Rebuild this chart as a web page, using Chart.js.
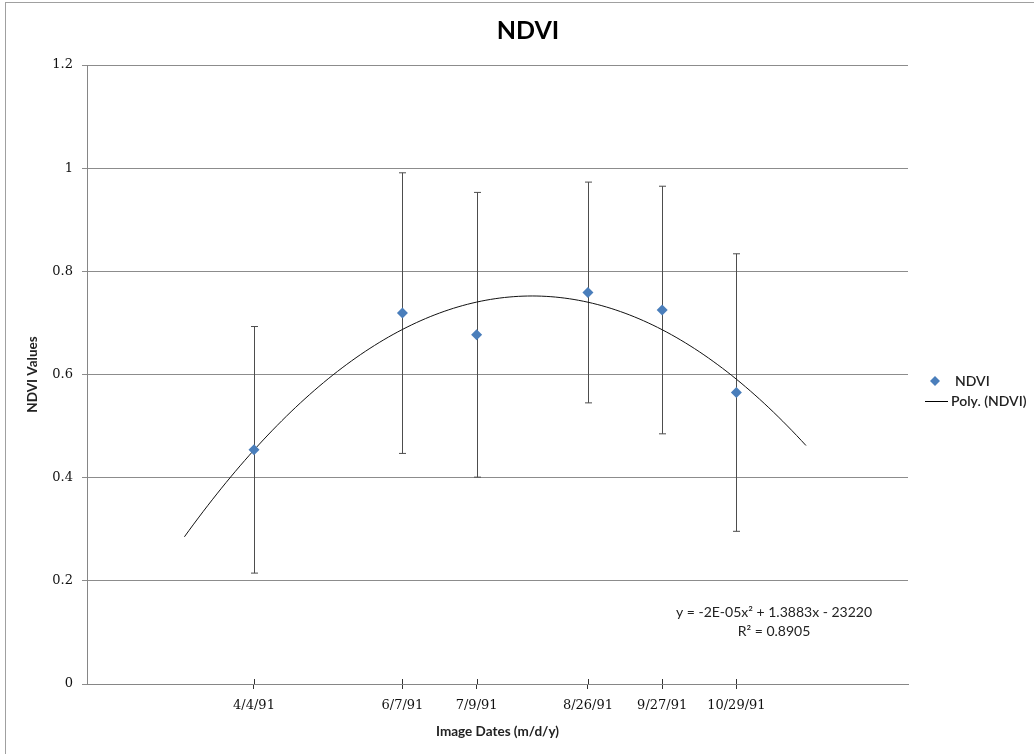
<!DOCTYPE html>
<html>
<head>
<meta charset="utf-8">
<script src="https://cdn.jsdelivr.net/npm/chart.js@4/dist/chart.umd.min.js"></script>
<style>
  html, body { margin: 0; padding: 0; background: #fff; overflow: hidden; }
  #wrap { position: relative; width: 1034px; height: 754px; }
  #frame { position: absolute; left: 5px; top: 2px; width: 1100px; height: 800px; border: 1px solid #a0a0a0; }
  canvas { position: absolute; left: 0; top: 0; }
</style>
</head>
<body>
<div id="wrap">
  <div id="frame"></div>
  <canvas id="miGrafica" width="1034" height="754"></canvas>
</div>
<script>
// image dates (Excel day serials) and their labels
var dateLabels = ['4/4/91', '6/7/91', '7/9/91', '8/26/91', '9/27/91', '10/29/91'];
var dateSerials = [33332, 33396, 33428, 33476, 33508, 33540];
// mean NDVI and error bar size per date
var ndviMean = [0.454, 0.719, 0.677, 0.759, 0.725, 0.565];
var ndviErr = [0.239, 0.272, 0.276, 0.214, 0.240, 0.269];
var yTicks = [0, 0.2, 0.4, 0.6, 0.8, 1, 1.2];
var trendText = ['y = -2E-05x\u00b2 + 1.3883x - 23220', 'R\u00b2 = 0.8905'];
var forecastDays = 30;

// least squares 2nd order fit of the data (same thing excel does for Poly. trendline)
function polyFit(xs, ys) {
  var x0 = xs.reduce(function (a, b) { return a + b; }, 0) / xs.length;
  var s = [0, 0, 0, 0, 0], t = [0, 0, 0];
  for (var i = 0; i < xs.length; i++) {
    var u = xs[i] - x0;
    for (var k = 0; k < 5; k++) s[k] += Math.pow(u, k);
    for (var k2 = 0; k2 < 3; k2++) t[k2] += ys[i] * Math.pow(u, k2);
  }
  var m = [[s[0], s[1], s[2], t[0]], [s[1], s[2], s[3], t[1]], [s[2], s[3], s[4], t[2]]];
  for (var c = 0; c < 3; c++) {
    for (var r = c + 1; r < 3; r++) {
      var f = m[r][c] / m[c][c];
      for (var j = c; j < 4; j++) m[r][j] -= f * m[c][j];
    }
  }
  var b = [0, 0, 0];
  for (var r2 = 2; r2 >= 0; r2--) {
    var v = m[r2][3];
    for (var j2 = r2 + 1; j2 < 3; j2++) v -= m[r2][j2] * b[j2];
    b[r2] = v / m[r2][r2];
  }
  return function (x) { var u = x - x0; return b[0] + b[1] * u + b[2] * u * u; };
}

var fit = polyFit(dateSerials, ndviMean);
var trendPoints = [];
for (var d = dateSerials[0] - forecastDays; d <= dateSerials[dateSerials.length - 1] + forecastDays; d += 2) {
  trendPoints.push({ x: d, y: fit(d) });
}

var ndviPoints = dateSerials.map(function (x, i) { return { x: x, y: ndviMean[i] }; });

var labelFont = { family: 'Lato, "Open Sans", sans-serif', size: 13.5, weight: 'bold' };
var tickFont = { family: '"DejaVu Serif", serif', size: 13 };

// error bars, cross tick marks, legend and equation text
var extras = {
  id: 'extras',
  beforeDatasetsDraw: function (chart) {
    var ctx = chart.ctx, xs = chart.scales.x, ys = chart.scales.y;
    ctx.save();
    ctx.strokeStyle = '#4d4d4d';
    ctx.lineWidth = 1;
    for (var i = 0; i < dateSerials.length; i++) {
      var px = Math.round(xs.getPixelForValue(dateSerials[i])) + 0.5;
      var top = ys.getPixelForValue(ndviMean[i] + ndviErr[i]);
      var bot = ys.getPixelForValue(ndviMean[i] - ndviErr[i]);
      ctx.beginPath();
      ctx.moveTo(px, top); ctx.lineTo(px, bot);
      ctx.moveTo(px - 3.5, top); ctx.lineTo(px + 3.5, top);
      ctx.moveTo(px - 3.5, bot); ctx.lineTo(px + 3.5, bot);
      ctx.stroke();
    }
    ctx.restore();
  },
  afterDraw: function (chart) {
    var ctx = chart.ctx, xs = chart.scales.x, area = chart.chartArea;
    ctx.save();
    // upper half of the cross tick marks
    ctx.strokeStyle = '#333';
    ctx.lineWidth = 1;
    dateSerials.forEach(function (v) {
      var px = Math.round(xs.getPixelForValue(v)) + 0.5;
      ctx.beginPath();
      ctx.moveTo(px, area.bottom - 5); ctx.lineTo(px, area.bottom);
      ctx.stroke();
    });

    // title
    ctx.fillStyle = '#000';
    ctx.textAlign = 'center';
    ctx.textBaseline = 'middle';
    ctx.font = 'bold 25px Lato, "Open Sans", sans-serif';
    ctx.fillText('NDVI', 528, 31);

    // trendline equation
    ctx.font = '14px Lato, "Open Sans", sans-serif';
    ctx.fillStyle = '#222';
    var ex = area.right - 134;
    ctx.fillText(trendText[0], ex, area.bottom - 72);
    ctx.fillText(trendText[1], ex, area.bottom - 53);

    // legend
    var lx = area.right + 27, ly = 381;
    ctx.fillStyle = '#4a7ebb';
    ctx.beginPath();
    ctx.moveTo(lx, ly - 5); ctx.lineTo(lx + 5, ly); ctx.lineTo(lx, ly + 5); ctx.lineTo(lx - 5, ly);
    ctx.closePath();
    ctx.fill();
    ctx.strokeStyle = '#000';
    ctx.beginPath();
    ctx.moveTo(area.right + 17, ly + 20.5); ctx.lineTo(area.right + 40, ly + 20.5);
    ctx.stroke();
    ctx.fillStyle = '#222';
    ctx.textAlign = 'left';
    ctx.font = '600 14px Lato, "Open Sans", sans-serif';
    ctx.fillText('NDVI', area.right + 47, ly);
    ctx.fillText('Poly. (NDVI)', area.right + 43, ly + 20);
    ctx.restore();
  }
};

var ctx = document.getElementById('miGrafica').getContext('2d');
var chart = new Chart(ctx, {
  type: 'scatter',
  data: {
    datasets: [{
      label: 'NDVI',
      data: ndviPoints,
      pointStyle: 'rectRot',
      pointRadius: 5.5,
      pointHoverRadius: 5.5,
      backgroundColor: '#4a7ebb',
      borderColor: '#4a7ebb',
      borderWidth: 0,
      order: 1
    }, {
      type: 'line',
      label: 'Poly. (NDVI)',
      data: trendPoints,
      borderColor: '#111',
      borderWidth: 1,
      pointRadius: 0,
      fill: false,
      tension: 0,
      order: 2
    }]
  },
  options: {
    responsive: false,
    animation: false,
    events: [],
    layout: { padding: { top: 65, right: 126, bottom: 0, left: 0 } },
    plugins: {
      legend: { display: false },
      title: { display: false },
      tooltip: { enabled: false }
    },
    scales: {
      x: {
        type: 'linear',
        min: 33260,
        max: 33614,
        afterBuildTicks: function (scale) {
          scale.ticks = dateSerials.map(function (v) { return { value: v }; });
        },
        afterFit: function (scale) { scale.height = 70; },
        ticks: {
          autoSkip: false,
          maxRotation: 0,
          padding: 9,
          color: '#111',
          font: tickFont,
          callback: function (v) { return dateLabels[dateSerials.indexOf(v)]; }
        },
        grid: { drawOnChartArea: false, tickLength: 5, color: '#333' },
        border: { color: '#868686' },
        title: { display: true, text: 'Image Dates (m/d/y)', color: '#222', font: labelFont, padding: { top: 0, bottom: 14 } }
      },
      y: {
        min: 0,
        max: 1.2,
        afterBuildTicks: function (scale) {
          scale.ticks = yTicks.map(function (v) { return { value: v }; });
        },
        afterFit: function (scale) { scale.width = 87; },
        ticks: {
          padding: 9,
          color: '#111',
          font: tickFont,
          callback: function (v) { return String(+v.toFixed(1)); }
        },
        grid: { color: '#8c8c8c', tickLength: 5 },
        border: { color: '#868686' },
        title: { display: true, text: 'NDVI Values', color: '#222', font: labelFont, padding: { top: 25, bottom: 0 } }
      }
    }
  },
  plugins: [extras]
});
</script>
</body>
</html>
